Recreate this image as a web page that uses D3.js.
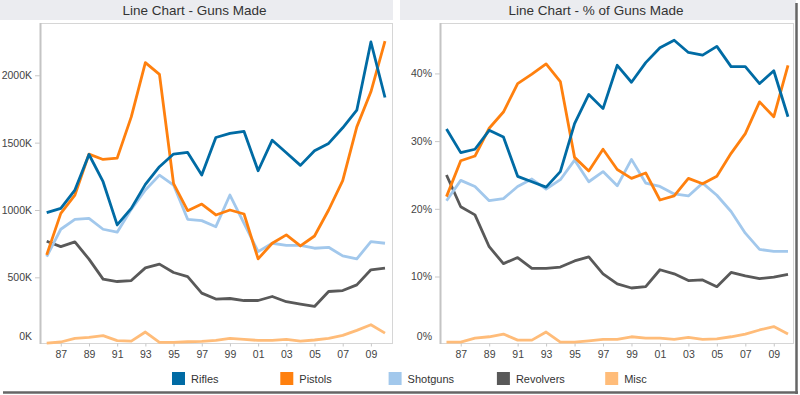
<!DOCTYPE html>
<html>
<head>
<meta charset="utf-8">
<script src="https://cdn.jsdelivr.net/npm/d3@7"></script>
<style>
  body { margin: 0; background: #fff; }
  svg { display: block; font-family: "Liberation Sans", Arial, sans-serif; }
</style>
</head>
<body>
<div id="chart"></div>
<script>
// Data
const years = [1986, 1987, 1988, 1989, 1990, 1991, 1992, 1993, 1994, 1995, 1996, 1997,
  1998, 1999, 2000, 2001, 2002, 2003, 2004, 2005, 2006, 2007, 2008, 2009, 2010];
const tickYears = [1987, 1989, 1991, 1993, 1995, 1997, 1999, 2001, 2003, 2005, 2007, 2009];
const seriesNames = ["Rifles", "Pistols", "Shotguns", "Revolvers", "Misc"];
const seriesColors = ["#006BA4", "#FF800E", "#A2C8EC", "#595959", "#FFBC79"];

// guns made, thousands
const riflesMade = [980, 1012, 1148, 1412, 1210, 889, 1012, 1190, 1321, 1415, 1427, 1259,
  1538, 1568, 1583, 1291, 1518, 1425, 1331, 1439, 1494, 1610, 1741, 2247, 1835];
const pistolsMade = [667, 975, 1111, 1415, 1375, 1385, 1691, 2094, 2007, 1195, 995, 1044,
  963, 1000, 970, 637, 753, 815, 733, 807, 1000, 1218, 1617, 1877, 2254];
const shotgunsMade = [654, 857, 931, 938, 857, 835, 1005, 1148, 1259, 1185, 931, 921,
  876, 1111, 901, 691, 753, 738, 738, 716, 723, 659, 637, 765, 753];
const revolversMade = [768, 728, 763, 635, 487, 469, 476, 570, 598, 536, 506, 383,
  339, 343, 328, 328, 358, 319, 301, 284, 395, 402, 444, 556, 568];
const miscMade = [12, 20, 47, 54, 67, 30, 27, 94, 17, 17, 22, 25,
  32, 47, 40, 32, 32, 40, 27, 35, 47, 69, 106, 148, 86];

// share of guns made, percent
const riflesPct = [31.8, 28.3, 28.8, 31.6, 30.6, 24.8, 24.0, 23.2, 25.5, 32.6, 36.9, 34.8,
  41.2, 38.7, 41.6, 43.8, 44.9, 43.1, 42.7, 44.0, 41.0, 41.0, 38.5, 40.4, 33.6];
const pistolsPct = [21.8, 27.1, 27.8, 31.9, 34.3, 38.5, 39.9, 41.4, 38.8, 27.6, 25.6, 28.8,
  25.8, 24.5, 25.3, 21.3, 21.9, 24.5, 23.7, 24.8, 28.2, 31.1, 35.8, 33.6, 41.2];
const shotgunsPct = [21.2, 24.2, 23.3, 21.2, 21.5, 23.3, 24.4, 22.9, 24.3, 27.2, 24.0, 25.5,
  23.4, 27.3, 23.8, 23.3, 22.2, 21.9, 23.8, 22.0, 19.6, 16.4, 14.0, 13.7, 13.7];
const revolversPct = [25.0, 20.3, 19.1, 14.4, 11.9, 12.8, 11.2, 11.2, 11.4, 12.3, 12.9, 10.4,
  8.9, 8.3, 8.5, 11.0, 10.4, 9.4, 9.5, 8.5, 10.6, 10.1, 9.7, 9.9, 10.3];
const miscPct = [0.3, 0.3, 0.9, 1.1, 1.5, 0.6, 0.6, 1.8, 0.3, 0.3, 0.5, 0.7,
  0.7, 1.1, 0.9, 0.9, 0.7, 1.0, 0.7, 0.8, 1.1, 1.5, 2.1, 2.6, 1.5];

const madeTicks = [0, 500, 1000, 1500, 2000];
const pctTicks = [0, 10, 20, 30, 40];

const svg = d3.select("#chart")
  .append("svg")
  .attr("width", 800)
  .attr("height", 395);

// one panel: title bar, frame, axes, lines
function drawPanel(p) {
  const g = svg.append("g");

  // title bar
  g.append("rect")
    .attr("x", p.titleX)
    .attr("y", 0)
    .attr("width", p.titleW)
    .attr("height", 20)
    .attr("fill", "#ebecf0");

  g.append("text")
    .attr("x", p.titleX + p.titleW / 2 - 2)
    .attr("y", 15)
    .attr("text-anchor", "middle")
    .attr("font-size", 13.5)
    .attr("fill", "#333")
    .text(p.title);

  const xScale = d3.scaleLinear()
    .domain([1986, 2010])
    .range([p.x0, p.x1]);

  const yScale = d3.scaleLinear()
    .domain(p.yDomain)
    .range([p.yZero, p.frame.top]);

  // plot frame
  g.append("rect")
    .attr("x", p.frame.left + 0.5)
    .attr("y", p.frame.top + 0.5)
    .attr("width", p.frame.right - p.frame.left)
    .attr("height", p.frame.bottom - p.frame.top)
    .attr("fill", "none")
    .attr("stroke", "#d6d6d6");

  g.append("line")
    .attr("x1", p.frame.left + 0.5)
    .attr("x2", p.frame.left + 0.5)
    .attr("y1", p.frame.top)
    .attr("y2", p.frame.bottom + 1)
    .attr("stroke", "#c4c4c4")
    .attr("stroke-width", 2);

  // y axis
  const yAxis = g.append("g")
    .attr("transform", `translate(${p.frame.left},0)`)
    .call(d3.axisLeft(yScale)
      .tickValues(p.yTicks)
      .tickSize(5)
      .tickPadding(3)
      .tickFormat(p.yFormat));
  yAxis.select(".domain").remove();
  yAxis.selectAll(".tick line").attr("stroke", "#c8c8c8");
  yAxis.selectAll(".tick text")
    .attr("fill", "#444")
    .attr("font-size", 10.5)
    .attr("font-family", "Liberation Sans, Arial, sans-serif");
  // bottom label sits above the frame edge, tick hidden
  yAxis.selectAll(".tick").filter(d => d === 0)
    .attr("transform", `translate(0,${p.frame.bottom - 6})`)
    .select("line").remove();

  // x axis
  const xAxis = g.append("g")
    .attr("transform", `translate(0,${p.frame.bottom + 0.5})`)
    .call(d3.axisBottom(xScale)
      .tickValues(tickYears)
      .tickSize(3)
      .tickPadding(4)
      .tickFormat(d => String(d).slice(2)));
  xAxis.select(".domain").remove();
  xAxis.selectAll(".tick line").attr("stroke", "#c8c8c8");
  xAxis.selectAll(".tick text")
    .attr("fill", "#444")
    .attr("font-size", 10.5)
    .attr("font-family", "Liberation Sans, Arial, sans-serif");

  // lines, Misc drawn first so Rifles ends up on top
  const line = d3.line()
    .x((d, i) => xScale(years[i]))
    .y(d => yScale(d));

  for (let k = p.series.length - 1; k >= 0; k--) {
    g.append("path")
      .datum(p.series[k])
      .attr("fill", "none")
      .attr("stroke", seriesColors[k])
      .attr("stroke-width", 2.8)
      .attr("stroke-linejoin", "round")
      .attr("d", line);
  }
}

drawPanel({
  title: "Line Chart - Guns Made",
  titleX: 0, titleW: 393,
  frame: { left: 40, right: 392, top: 23, bottom: 343 },
  x0: 46.7, x1: 385,
  yZero: 344.7,
  yDomain: [0, 2388],
  yTicks: madeTicks,
  yFormat: d => d + "K",
  series: [riflesMade, pistolsMade, shotgunsMade, revolversMade, miscMade]
});

drawPanel({
  title: "Line Chart - % of Guns Made",
  titleX: 400, titleW: 396,
  frame: { left: 440, right: 793, top: 23, bottom: 343 },
  x0: 446.5, x1: 788,
  yZero: 344.2,
  yDomain: [0, 47.45],
  yTicks: pctTicks,
  yFormat: d => d + "%",
  series: [riflesPct, pistolsPct, shotgunsPct, revolversPct, miscPct]
});

// legend
const legend = svg.append("g")
  .attr("transform", "translate(172,372)");

seriesNames.forEach((name, i) => {
  legend.append("rect")
    .attr("x", i * 108.3)
    .attr("y", 0)
    .attr("width", 13)
    .attr("height", 13)
    .attr("fill", seriesColors[i]);

  legend.append("text")
    .attr("x", i * 108.3 + 19)
    .attr("y", 11)
    .attr("font-size", 11)
    .attr("fill", "#333")
    .text(name);
});

// screenshot drop shadow along bottom and right edge
svg.append("line")
  .attr("x1", 3).attr("x2", 798)
  .attr("y1", 392.5).attr("y2", 392.5)
  .attr("stroke", "#666")
  .attr("stroke-width", 2.5);

svg.append("line")
  .attr("x1", 796.5).attr("x2", 796.5)
  .attr("y1", 3).attr("y2", 394)
  .attr("stroke", "#666")
  .attr("stroke-width", 2.5);
</script>
</body>
</html>
